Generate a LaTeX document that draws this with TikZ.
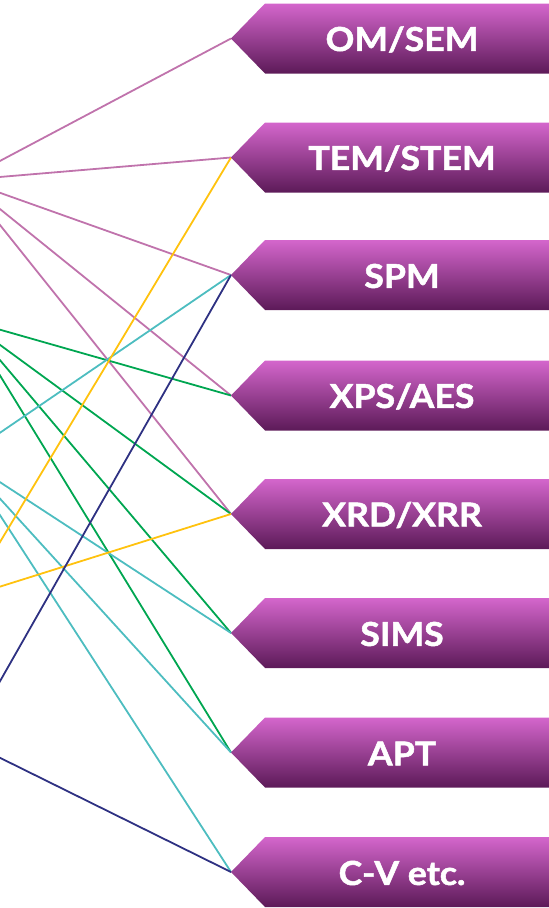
\documentclass[tikz,border=0pt]{standalone}
\usepackage{fontspec}
\setmainfont{Lato}
\newfontfamily\boxfont[FakeStretch=1.08, BoldFeatures={FakeBold=1.6}]{Lato}
\definecolor{cpink}{HTML}{C073AC}
\definecolor{cyellow}{HTML}{FFC20E}
\definecolor{cgreen}{HTML}{00A651}
\definecolor{cteal}{HTML}{4DBDC0}
\definecolor{cnavy}{HTML}{2E3182}
\definecolor{btop}{HTML}{D466CC}
\definecolor{bmid}{HTML}{9A2B91}
\definecolor{bbot}{HTML}{5C1A58}
\newcommand{\techbox}[3]{%
  \coordinate (#1) at (231,#2);
  \shade[top color=btop, middle color=bmid, bottom color=bbot]
    (#1) -- ++(34,-35) -- ++(300,0) -- ++(0,70) -- ++(-300,0) -- cycle;
  \node[boxlabel] (#1-label) at (402,#2+1) {#3};
}
\tikzset{
  link/.style={line width=1.8pt},
  boxlabel/.style={text=white, font=\boxfont\bfseries\fontsize{33}{33}\selectfont, inner sep=0pt, anchor=center}
}
\begin{document}
\begin{tikzpicture}[x=1pt,y=-1pt]
\useasboundingbox (0,0) rectangle (549,908);
\clip (0,0) rectangle (549,908);
% source points (off-picture, left)
\coordinate (spink) at (-36,180);
\coordinate (sgreen) at (-34,320);
\coordinate (steal) at (-37,458);
\coordinate (syellow) at (-33,597);
\coordinate (snavy) at (-34,741);
% tips
\coordinate (OM) at (231,38.5);
\coordinate (TEM) at (231,157.5);
\coordinate (SPM) at (231,275);
\coordinate (XPS) at (231,395.5);
\coordinate (XRD) at (231,514);
\coordinate (SIMS) at (231,633);
\coordinate (APT) at (231,752.5);
\coordinate (CV) at (231,872);
% links
\draw[link, cpink] (spink) -- (OM);
\draw[link, cpink] (spink) -- (TEM);
\draw[link, cpink] (spink) -- (SPM);
\draw[link, cpink] (spink) -- (XPS);
\draw[link, cpink] (spink) -- (XRD);
\draw[link, cgreen] (sgreen) -- (XPS);
\draw[link, cgreen] (sgreen) -- (XRD);
\draw[link, cgreen] (sgreen) -- (SIMS);
\draw[link, cgreen] (sgreen) -- (APT);
\draw[link, cteal] (steal) -- (SPM);
\draw[link, cteal] (steal) -- (SIMS);
\draw[link, cteal] (steal) -- (APT);
\draw[link, cteal] (steal) -- (CV);
\draw[link, cyellow] (syellow) -- (TEM);
\draw[link, cyellow] (syellow) -- (XRD);
\draw[link, cnavy] (snavy) -- (SPM);
\draw[link, cnavy] (snavy) -- (CV);
% boxes
\techbox{bOM}{38.5}{OM/SEM}
\techbox{bTEM}{157.5}{TEM/STEM}
\techbox{bSPM}{275}{SPM}
\techbox{bXPS}{395.5}{XPS/AES}
\techbox{bXRD}{514}{XRD/XRR}
\techbox{bSIMS}{633}{SIMS}
\techbox{bAPT}{752.5}{APT}
\techbox{bCV}{872}{C-V etc.}
\end{tikzpicture}
\end{document}
